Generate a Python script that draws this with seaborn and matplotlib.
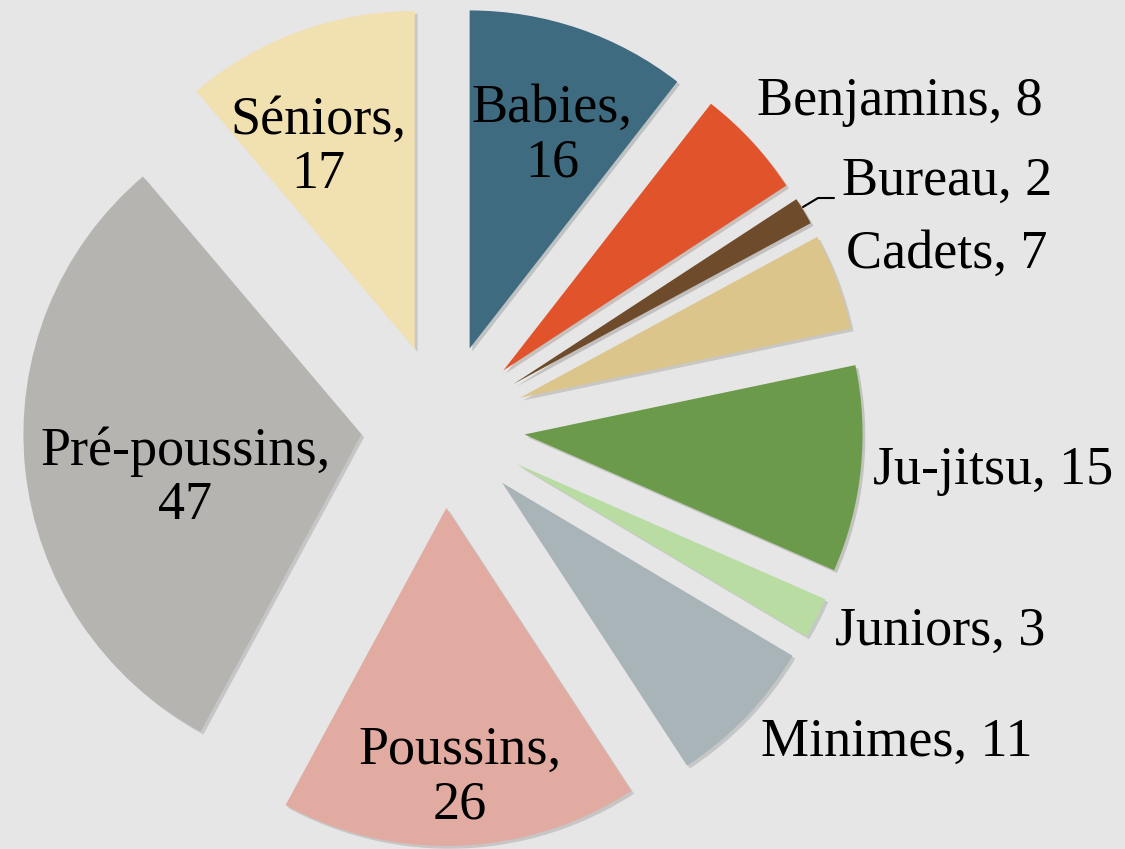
import seaborn as sns
import matplotlib.pyplot as plt
import matplotlib.patheffects as pe

# data
categories = ["Babies", "Benjamins", "Bureau", "Cadets", "Ju-jitsu",
              "Juniors", "Minimes", "Poussins", "Pré-poussins", "Séniors"]
counts = [16, 8, 2, 7, 15, 3, 11, 26, 47, 17]
slice_colors = ["#3f6b80", "#e0532b", "#6e4b2b", "#dcc58b", "#6c9a4b",
                "#b9dca2", "#a9b4b9", "#e2aba1", "#b6b4b1", "#f1e0b0"]

sns.set_style("white")
plt.rcParams['font.family'] = ['Liberation Serif', 'DejaVu Serif']

W, H = 1125, 849
CX, CY, R = 443, 426, 338   # pie centre / radius in pixels


def px(x, y):
    # pixel position (from top-left) -> data units (radius = 1)
    return (x - CX) / R, (CY - y) / R


fig = plt.figure(figsize=(11.25, 8.49), dpi=100)
fig.patch.set_facecolor("#e6e6e6")
ax = fig.add_axes([0, 0, 1, 1])
ax.set_facecolor("#e6e6e6")

palette = sns.color_palette(slice_colors)
wedges, _ = ax.pie(counts, colors=palette, startangle=90, counterclock=False,
                   explode=[82 / R] * len(counts), radius=1, center=(0, 0),
                   wedgeprops={"linewidth": 0})
for w in wedges:
    w.set_path_effects([pe.SimplePatchShadow(offset=(2, -2), alpha=0.18),
                        pe.Normal()])

x0, y0 = px(0, H)
x1, y1 = px(W, 0)
ax.set_xlim(x0, x1)
ax.set_ylim(y0, y1)
ax.set_aspect("auto")
ax.axis("off")

# label layout (pixel positions, centre of text block)
inside = {"Babies": (552, 136), "Séniors": (318, 148),
          "Pré-poussins": (185, 479), "Poussins": (460, 778)}
outside = {"Benjamins": (900, 102), "Bureau": (947, 182), "Cadets": (947, 255),
           "Ju-jitsu": (993, 471), "Juniors": (940, 632), "Minimes": (897, 743)}

for name, n in zip(categories, counts):
    if name in inside:
        x, y = px(*inside[name])
        ax.text(x, y, f"{name},\n{n}", ha="center", va="center",
                fontsize=39, linespacing=1.1, color="black")
    else:
        x, y = px(*outside[name])
        ax.text(x, y, f"{name}, {n}", ha="center", va="center",
                fontsize=39, color="black")

# leader line for the thin Bureau slice
lx, ly = zip(*[px(803, 207), px(818, 198), px(834, 198)])
ax.plot(lx, ly, color="black", lw=1.5)

fig.savefig("out.png", dpi=100, facecolor=fig.get_facecolor())
